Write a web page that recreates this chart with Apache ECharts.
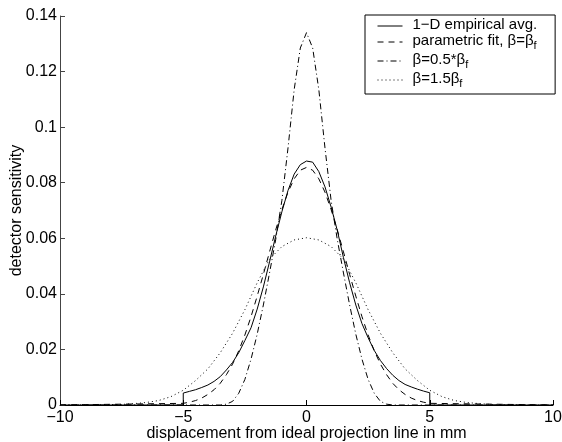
<!DOCTYPE html>
<html>
<head>
<meta charset="utf-8">
<script src="https://cdn.jsdelivr.net/npm/echarts/dist/echarts.min.js"></script>
<style>
html,body{margin:0;padding:0;background:#fff;}
#chart{width:562px;height:442px;}
</style>
</head>
<body>
<div id="chart"></div>
<script>
// ---- data ----
const seriesNames = ['1-D empirical avg.', 'parametric fit, β=βf', 'β=0.5*βf', 'β=1.5βf'];
const xTickLabels = ['−10', '−5', '0', '5', '10'];
const yTickLabels = ['0', '0.02', '0.04', '0.06', '0.08', '0.1', '0.12', '0.14'];

// 1-D empirical average (support -5..5, vertical steps at the ends)
const empX = [-10, -5, -5, -4.75, -4.5, -4.25, -4, -3.75, -3.5, -3.25, -3, -2.75, -2.5, -2.25, -2, -1.75, -1.5, -1.25, -1, -0.75, -0.5, -0.25, 0,
              0.25, 0.5, 0.75, 1, 1.25, 1.5, 1.75, 2, 2.25, 2.5, 2.75, 3, 3.25, 3.5, 3.75, 4, 4.25, 4.5, 4.75, 5, 5, 10];
const empY = [0, 0, 0.0043, 0.0049, 0.0055, 0.0063, 0.0072, 0.0085, 0.0102, 0.0126, 0.0153, 0.0188, 0.0232, 0.0278, 0.0345, 0.0425, 0.0515, 0.0608, 0.0695, 0.0772, 0.0831, 0.0865, 0.0878,
              0.0874, 0.0840, 0.0785, 0.0712, 0.0628, 0.0530, 0.0440, 0.0360, 0.0293, 0.0242, 0.0196, 0.0160, 0.0131, 0.0107, 0.0088, 0.0074, 0.0065, 0.0057, 0.0050, 0.0044, 0, 0];

// parametric fit
const fitX = [-10, -5, -4.75, -4.5, -4.25, -4, -3.75, -3.5, -3.25, -3, -2.75, -2.5, -2.25, -2, -1.75, -1.5, -1.25, -1, -0.75, -0.5, -0.25, 0,
              0.25, 0.5, 0.75, 1, 1.25, 1.5, 1.75, 2, 2.25, 2.5, 2.75, 3, 3.25, 3.5, 3.75, 4, 4.25, 4.5, 4.75, 5, 10];
const fitY = [0, 0.0006, 0.0010, 0.0016, 0.0025, 0.0038, 0.0055, 0.0078, 0.0109, 0.0147, 0.0195, 0.0252, 0.0318, 0.0392, 0.0470, 0.0551, 0.0630, 0.0703, 0.0766, 0.0814, 0.0845, 0.0855,
              0.0845, 0.0814, 0.0766, 0.0703, 0.0630, 0.0551, 0.0470, 0.0392, 0.0318, 0.0252, 0.0195, 0.0147, 0.0109, 0.0078, 0.0055, 0.0038, 0.0025, 0.0016, 0.0010, 0.0006, 0];

// beta = 0.5 * beta_f
const narrowX = [-10, -3.5, -3.25, -3, -2.75, -2.5, -2.25, -2, -1.75, -1.5, -1.25, -1, -0.75, -0.5, -0.25, 0,
                 0.25, 0.5, 0.75, 1, 1.25, 1.5, 1.75, 2, 2.25, 2.5, 2.75, 3, 3.25, 3.5, 10];
const narrowY = [0, 0, 0.0003, 0.0013, 0.0042, 0.0092, 0.0165, 0.0255, 0.0360, 0.0475, 0.0595, 0.0735, 0.0925, 0.1135, 0.1285, 0.1340,
                 0.1285, 0.1135, 0.0925, 0.0735, 0.0595, 0.0475, 0.0360, 0.0255, 0.0165, 0.0092, 0.0042, 0.0013, 0.0003, 0, 0];

// beta = 1.5 * beta_f
const wideX = [-10, -9, -8.5, -8, -7.5, -7, -6.5, -6, -5.5, -5, -4.5, -4, -3.5, -3, -2.5, -2, -1.5, -1, -0.5, 0,
               0.5, 1, 1.5, 2, 2.5, 3, 3.5, 4, 4.5, 5, 5.5, 6, 6.5, 7, 7.5, 8, 8.5, 9, 10];
const wideY = [0, 0, 0.00005, 0.0001, 0.0002, 0.0005, 0.0009, 0.0016, 0.0030, 0.0053, 0.0088, 0.0130, 0.0188, 0.0258, 0.0343, 0.0440, 0.0525, 0.0570, 0.0594, 0.0602,
               0.0594, 0.0570, 0.0525, 0.0440, 0.0343, 0.0258, 0.0188, 0.0130, 0.0088, 0.0053, 0.0030, 0.0016, 0.0009, 0.0005, 0.0002, 0.0001, 0.00005, 0, 0];

const legendRich = {
  '1-D empirical avg.': '{p|1−D empirical avg.}',
  'parametric fit, β=βf': '{p|parametric fit, β=β}{s|f}',
  'β=0.5*βf': '{p|β=0.5*β}{s|f}',
  'β=1.5βf': '{p|β=1.5β}{s|f}'
};

// ---- chart ----
const FONT = '"Liberation Sans", Arial, Helvetica, sans-serif';
const pairs = (xs, ys) => xs.map((x, i) => [x, ys[i]]);
const chart = echarts.init(document.getElementById('chart'), null, {renderer: 'canvas'});

function lineSeries(name, xs, ys, dash) {
  return {
    name: name,
    type: 'line',
    data: pairs(xs, ys),
    symbol: 'none',
    showSymbol: false,
    smooth: false,
    lineStyle: {color: '#000', width: 1, type: dash},
    itemStyle: {color: '#000'},
    emphasis: {disabled: true},
    z: 3
  };
}

chart.setOption({
  animation: false,
  backgroundColor: '#fff',
  textStyle: {fontFamily: FONT},
  grid: {left: 60, right: 9, top: 16, bottom: 37, containLabel: false, outerBoundsMode: 'none'},
  xAxis: {
    type: 'value', min: -10, max: 10, interval: 5,
    name: 'displacement from ideal projection line in mm',
    nameLocation: 'middle', nameGap: 21, nameMoveOverlap: false,
    nameTextStyle: {fontSize: 16, color: '#000', fontFamily: FONT},
    axisLine: {show: true, onZero: false, lineStyle: {color: '#000', width: 1}},
    axisTick: {show: true, inside: true, length: 5, lineStyle: {color: '#000'}},
    axisLabel: {
      fontSize: 16, color: '#000', margin: 5, fontFamily: FONT,
      formatter: v => xTickLabels[Math.round((v + 10) / 5)]
    },
    splitLine: {show: false}
  },
  yAxis: {
    type: 'value', min: 0, max: 0.14, interval: 0.02,
    name: 'detector sensitivity',
    nameLocation: 'middle', nameGap: 35, nameMoveOverlap: false,
    nameTextStyle: {fontSize: 16, color: '#000', fontFamily: FONT},
    axisLine: {show: true, onZero: false, lineStyle: {color: '#444', width: 1}},
    axisTick: {show: true, inside: true, length: 5, lineStyle: {color: '#444'}},
    axisLabel: {
      fontSize: 16, color: '#000', margin: 3, fontFamily: FONT,
      formatter: v => yTickLabels[Math.round(v / 0.02)]
    },
    splitLine: {show: false}
  },
  legend: {
    orient: 'vertical',
    left: 365, top: 15,
    padding: [2, 18, 5, 12],
    itemWidth: 25, itemHeight: 14, itemGap: 1,
    borderColor: '#000', borderWidth: 1, backgroundColor: '#fff',
    selectedMode: false,
    data: seriesNames,
    itemStyle: {opacity: 0, borderWidth: 0},
    lineStyle: {width: 1},
    formatter: name => legendRich[name],
    textStyle: {
      fontSize: 15, color: '#000', fontFamily: FONT,
      rich: {
        p: {fontSize: 15, lineHeight: 18, verticalAlign: 'top', padding: [0, 0, 0, 5], fontFamily: FONT, color: '#000'},
        s: {fontSize: 11, lineHeight: 9, verticalAlign: 'bottom', fontFamily: FONT, color: '#000'}
      }
    }
  },
  series: [
    lineSeries(seriesNames[0], empX, empY, 'solid'),
    lineSeries(seriesNames[1], fitX, fitY, [6, 5]),
    lineSeries(seriesNames[2], narrowX, narrowY, [6, 3, 1, 3]),
    lineSeries(seriesNames[3], wideX, wideY, [1, 3])
  ]
});
</script>
</body>
</html>
